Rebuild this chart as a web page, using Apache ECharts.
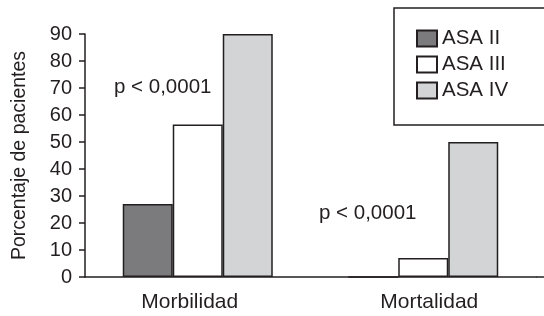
<!DOCTYPE html>
<html>
<head>
<meta charset="utf-8">
<script src="https://cdn.jsdelivr.net/npm/echarts@6/dist/echarts.min.js"></script>
<style>
  html, body { margin: 0; padding: 0; background: #fff; }
  #chart { width: 544px; height: 316px; }
</style>
</head>
<body>
<div id="chart"></div>
<script>
const categories = ['Morbilidad', 'Mortalidad']
const seriesNames = ['ASA II', 'ASA III', 'ASA IV']
const asaII = [27, 0]
const asaIII = [56.5, 7]
const asaIV = [90, 50]
const yTicks = [0, 90, 10] // min, max, interval
const pLabel = 'p < 0,0001'

const font = '"Liberation Sans", Arial, sans-serif'
const ink = '#231f20'
const fills = ['#7b7b7d', '#ffffff', '#d3d4d6']

const myChart = echarts.init(document.getElementById('chart'), null, {
  width: 544,
  height: 316,
  renderer: 'canvas',
})

const barSeries = [asaII, asaIII, asaIV].map((values, i) => {
  return {
    name: seriesNames[i],
    type: 'bar',
    data: values,
    barWidth: 50,
    barGap: 0,
    itemStyle: {
      color: fills[i],
      borderColor: ink,
      borderWidth: 1.5,
    },
  }
})

const option = {
  animation: false,
  textStyle: { fontFamily: font, color: ink },
  grid: { left: 85, right: 8, top: 34, bottom: 39, containLabel: false },
  legend: {
    orient: 'vertical',
    left: 394,
    top: 8,
    data: seriesNames,
    icon: 'rect',
    itemWidth: 20,
    itemHeight: 16,
    itemGap: 5,
    itemTextGap: 9,
    padding: [20, 60, 24, 22],
    borderColor: ink,
    borderWidth: 1.5,
    textStyle: { fontFamily: font, fontSize: 20.5, color: ink, lineHeight: 20 },
  },
  xAxis: {
    type: 'category',
    data: categories,
    axisLine: { lineStyle: { color: ink, width: 1.5 } },
    axisTick: { show: false },
    axisLabel: {
      margin: 15,
      fontSize: 21,
      color: ink,
      fontFamily: font,
      formatter: (v) => (v === categories[0] ? '{a|' + v + '}' : '{b|' + v + '}'),
      rich: {
        a: { fontSize: 21, fontFamily: font, color: ink, padding: [0, 16, 0, 0] },
        b: { fontSize: 21, fontFamily: font, color: ink, padding: [0, 0, 0, 12] },
      },
    },
  },
  yAxis: {
    type: 'value',
    min: yTicks[0],
    max: yTicks[1],
    interval: yTicks[2],
    name: 'Porcentaje de pacientes',
    nameLocation: 'middle',
    nameGap: 55,
    nameTextStyle: { fontSize: 19.5, color: ink, fontFamily: font },
    axisLine: { show: true, lineStyle: { color: ink, width: 1.5 } },
    axisTick: { show: true, length: 6, lineStyle: { color: ink, width: 1.5 } },
    axisLabel: { margin: 13, fontSize: 20, color: ink, fontFamily: font },
    splitLine: { show: false },
  },
  graphic: [
    {
      type: 'line',
      shape: { x1: 536, y1: 277, x2: 544, y2: 277 },
      style: { stroke: ink, lineWidth: 1.5 },
    },
    {
      type: 'text',
      left: 114,
      top: 77,
      style: { text: pLabel, fontSize: 20.5, fontFamily: font, fill: ink },
    },
    {
      type: 'text',
      left: 319,
      top: 203,
      style: { text: pLabel, fontSize: 20.5, fontFamily: font, fill: ink },
    },
  ],
  series: barSeries,
}

option && myChart.setOption(option)
</script>
</body>
</html>
